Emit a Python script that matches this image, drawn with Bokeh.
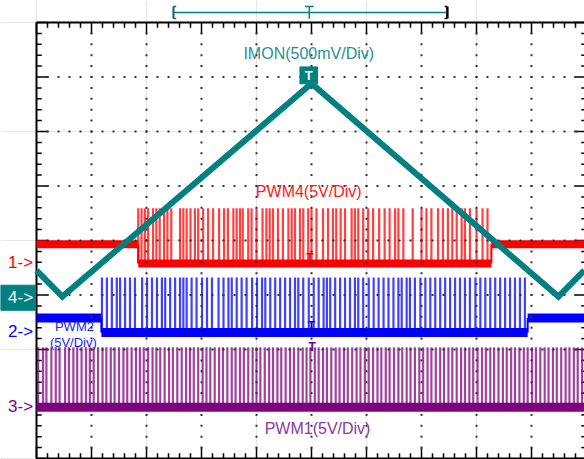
import numpy as np
from bokeh.plotting import figure
from bokeh.models import Range1d
from bokeh.core.properties import value
from bokeh.embed import file_html
from bokeh.resources import INLINE

# ---------------- data (time in divisions, amplitude in divisions from screen centre) ----------------
imon_t = [0.0, 0.47, 5.00, 9.49, 9.96]
imon_v = [-0.55, -1.03, 2.88, -1.03, -0.55]

# PWM4 (red) level segments and pulses
pwm4_seg_start = [0.0, 1.85, 8.27]
pwm4_seg_end = [1.85, 8.27, 9.96]
pwm4_seg_level = [-0.07, -0.42, -0.07]
pwm4_pulse_top = 0.59
pwm4_pulse_t = [1.85, 1.91, 1.97, 2.03, 2.12, 2.18, 2.24, 2.32, 2.38, 2.45, 2.61, 2.67, 2.73, 2.80,
                2.88, 2.94, 3.03, 3.12, 3.21, 3.32, 3.41, 3.48, 3.58, 3.64, 3.70, 3.75, 3.85, 3.91,
                4.00, 4.11, 4.18, 4.24, 4.30, 4.39, 4.48, 4.58, 4.64, 4.70, 4.79, 4.85, 4.94, 5.00,
                5.09, 5.21, 5.30, 5.39, 5.45, 5.53, 5.61, 5.73, 5.79, 5.85, 5.94, 6.03, 6.12, 6.23,
                6.33, 6.42, 6.52, 6.58, 6.67, 6.84, 7.00, 7.09, 7.18, 7.30, 7.39, 7.48, 7.56, 7.64,
                7.73, 7.79, 7.88, 8.00, 8.11, 8.20]

# PWM2 (blue)
pwm2_seg_start = [0.0, 1.18, 8.93]
pwm2_seg_end = [1.18, 8.93, 9.96]
pwm2_seg_level = [-1.42, -1.69, -1.42]
pwm2_pulse_top = -0.68
pwm2_pulse_t = [1.19, 1.28, 1.37, 1.46, 1.52, 1.61, 1.70, 1.79, 1.92, 2.01, 2.10, 2.19, 2.28, 2.34,
                2.43, 2.52, 2.61, 2.67, 2.73, 2.82, 2.91, 3.01, 3.10, 3.19, 3.31, 3.40, 3.49, 3.55,
                3.64, 3.73, 3.82, 3.92, 4.01, 4.10, 4.16, 4.25, 4.34, 4.43, 4.52, 4.61, 4.70, 4.76,
                4.85, 4.95, 5.04, 5.13, 5.22, 5.28, 5.34, 5.43, 5.52, 5.61, 5.70, 5.79, 5.85, 5.94,
                6.04, 6.13, 6.22, 6.31, 6.40, 6.49, 6.58, 6.64, 6.73, 6.79, 6.88, 6.98, 7.07, 7.16,
                7.25, 7.34, 7.43, 7.52, 7.61, 7.70, 7.79, 7.88, 7.98, 8.07, 8.16, 8.25, 8.34, 8.43,
                8.52, 8.61, 8.70, 8.79, 8.88]

# PWM1 (purple)
pwm1_seg_start = [0.0]
pwm1_seg_end = [9.96]
pwm1_seg_level = [-3.06]
pwm1_pulse_top = -1.96
pwm1_pulse_t = [0.03, 0.12, 0.18, 0.27, 0.35, 0.42, 0.52, 0.59, 0.67, 0.74, 0.82, 0.90, 0.97, 1.04,
                1.12, 1.20, 1.27, 1.35, 1.42, 1.50, 1.58, 1.65, 1.73, 1.81, 1.88, 1.95, 2.03, 2.11,
                2.18, 2.25, 2.33, 2.41, 2.48, 2.56, 2.64, 2.72, 2.79, 2.86, 2.94, 3.02, 3.09, 3.16,
                3.24, 3.32, 3.39, 3.47, 3.55, 3.62, 3.70, 3.77, 3.85, 3.93, 4.00, 4.07, 4.15, 4.23,
                4.30, 4.38, 4.45, 4.53, 4.61, 4.68, 4.76, 4.84, 4.91, 4.98, 5.06, 5.13, 5.21, 5.28,
                5.36, 5.44, 5.51, 5.59, 5.66, 5.74, 5.82, 5.89, 5.97, 6.04, 6.12, 6.20, 6.27, 6.35,
                6.42, 6.50, 6.58, 6.65, 6.73, 6.80, 6.88, 6.96, 7.03, 7.11, 7.18, 7.26, 7.34, 7.41,
                7.49, 7.56, 7.64, 7.72, 7.79, 7.87, 7.94, 8.02, 8.10, 8.17, 8.25, 8.32, 8.40, 8.48,
                8.55, 8.63, 8.70, 8.78, 8.86, 8.93, 9.01, 9.08, 9.16, 9.24, 9.31, 9.39, 9.46, 9.54,
                9.62, 9.69, 9.77, 9.84, 9.92]

# channel reference markers (ground levels)
ch_names = ["1->", "4->", "2->", "3->"]
ch_levels = [-0.40, -1.05, -1.67, -3.05]
ch_colors = ["#ff0000", "#ffffff", "#0000ff", "#800080"]

# trigger level markers
trig_t = [4.97, 5.00, 5.01]
trig_v = [-0.33, -1.56, -1.96]
trig_colors = ["#ff0000", "#0000ff", "#800080"]

# time-window bracket (top)
window_start, window_end, trig_pos = 2.49, 7.47, 4.96

# ---------------- figure ----------------
TEAL = "#008080"
FONT = value("Liberation Sans")

p = figure(width=584, height=459,
           x_range=Range1d(-36 / 55, 548 / 55), y_range=Range1d(-219 / 54.5, 240 / 54.5),
           output_backend="svg", toolbar_location=None,
           x_axis_location=None, y_axis_location=None, min_border=0)
p.outline_line_color = None
p.background_fill_color = "white"
p.border_fill_color = "white"

# graticule ticks
minor = np.round(np.arange(0, 10.001, 0.2), 2)
minor_v = np.round(np.arange(-4, 4.001, 0.2), 2)
is_major_t = np.isclose(minor, np.round(minor))
is_major_v = np.isclose(minor_v, np.round(minor_v))
lt = np.where(is_major_t, 0.21, 0.095)
lv = np.where(is_major_v, 0.22, 0.095)
p.segment(minor, 4.0, minor, 4.0 - lt, color="black", line_width=1.5)
p.segment(minor, -4.0, minor, -4.0 + lt, color="black", line_width=1.5)
p.segment(0.0, minor_v, lv, minor_v, color="black", line_width=1.5)
p.segment(10.0, minor_v, 10.0 - lv, minor_v, color="black", line_width=1.5)
p.segment([0, 0, 0], [-4, 4, -4], [0, 10, 10], [4, 4, -4], color="black", line_width=2)

# time window bracket
p.segment([window_start, window_end, trig_pos], 4.183, [window_end, window_end, trig_pos], 4.183,
          color=TEAL, line_width=1.5)
p.segment([window_start, window_end, trig_pos], [4.294, 4.294, 4.07], [window_start, window_end, trig_pos],
          [4.073, 4.073, 4.294], color=["#1f5f5f", "black", TEAL], line_width=[2, 2.5, 1.5])
p.segment([window_start, window_start, window_end, window_end, trig_pos - 0.08],
          [4.294, 4.073, 4.294, 4.073, 4.294],
          [window_start + 0.05, window_start + 0.05, window_end - 0.05, window_end - 0.05, trig_pos + 0.08],
          [4.294, 4.073, 4.294, 4.073, 4.294], color=["#1f5f5f", "#1f5f5f", "black", "black", TEAL],
          line_width=1.5)


def draw_pwm(seg_start, seg_end, seg_level, pulse_t, pulse_top, color, base_w):
    low = seg_level[1] if len(seg_level) > 1 else seg_level[0]
    p.segment(pulse_t, low, pulse_t, pulse_top, color=color, line_width=2.2, line_alpha=0.75)
    p.segment(seg_start, seg_level, seg_end, seg_level, color=color, line_width=base_w)
    for i in range(len(seg_level) - 1):
        p.segment(seg_end[i], seg_level[i], seg_end[i], seg_level[i + 1], color=color, line_width=2)


draw_pwm(pwm4_seg_start, pwm4_seg_end, pwm4_seg_level, pwm4_pulse_t, pwm4_pulse_top, "#ff0000", 8)
draw_pwm(pwm2_seg_start, pwm2_seg_end, pwm2_seg_level, pwm2_pulse_t, pwm2_pulse_top, "#0000ff", 9)
draw_pwm(pwm1_seg_start, pwm1_seg_end, pwm1_seg_level, pwm1_pulse_t, pwm1_pulse_top, "#800080", 9)

# grid dots
rows_v = np.arange(-3, 4)
cols_t = np.arange(1, 10)
inner_t = minor[(minor > 0) & (minor < 10)]
inner_v = minor_v[(minor_v > -4) & (minor_v < 4)]
gx = np.concatenate([np.repeat(inner_t, len(rows_v)), np.repeat(cols_t, len(inner_v))])
gy = np.concatenate([np.tile(rows_v, len(inner_t)), np.tile(inner_v, len(cols_t))])
p.scatter(gx, gy, marker="square", size=2, color="#333333", line_color=None)

# IMON trace
p.line(imon_t, imon_v, color=TEAL, line_width=6, line_join="miter")
p.rect([4.95], [3.03], width=0.32, height=0.31, fill_color=TEAL, line_color=TEAL)
p.text([4.95], [3.03], text=["T"], text_color="white", text_font=FONT, text_font_size="13px",
       text_font_style="bold", text_align="center", text_baseline="middle")

# trigger T markers
p.text(trig_t, trig_v, text=["T", "T", "T"], text_color=trig_colors, text_font=FONT,
       text_font_size="12px", text_font_style="bold", text_align="center", text_baseline="middle")

# channel markers
p.rect([-0.336], [ch_levels[1]], width=0.64, height=0.46, fill_color=TEAL, line_color=TEAL)
p.text([-0.29] * 4, ch_levels, text=ch_names, text_color=ch_colors, text_font=FONT,
       text_font_size="17px", text_align="center", text_baseline="middle")

# channel titles
p.text([4.95], [3.43], text=["IMON(500mV/Div)"], text_color="#2a8f8f", text_font=FONT,
       text_font_size="16px", text_align="center", text_baseline="middle")
p.text([4.95], [0.90], text=["PWM4(5V/Div)"], text_color="#ff1a1a", text_font=FONT,
       text_font_size="16px", text_align="center", text_baseline="middle")
p.text([5.11], [-3.45], text=["PWM1(5V/Div)"], text_color="#8a3a9e", text_font=FONT,
       text_font_size="16px", text_align="center", text_baseline="middle")
p.text([0.69, 0.67], [-1.58, -1.87], text=["PWM2", "(5V/Div)"], text_color="#1a1aff", text_font=FONT,
       text_font_size="13px", text_align="center", text_baseline="middle")

open("out.html", "w").write(file_html(p, INLINE))
